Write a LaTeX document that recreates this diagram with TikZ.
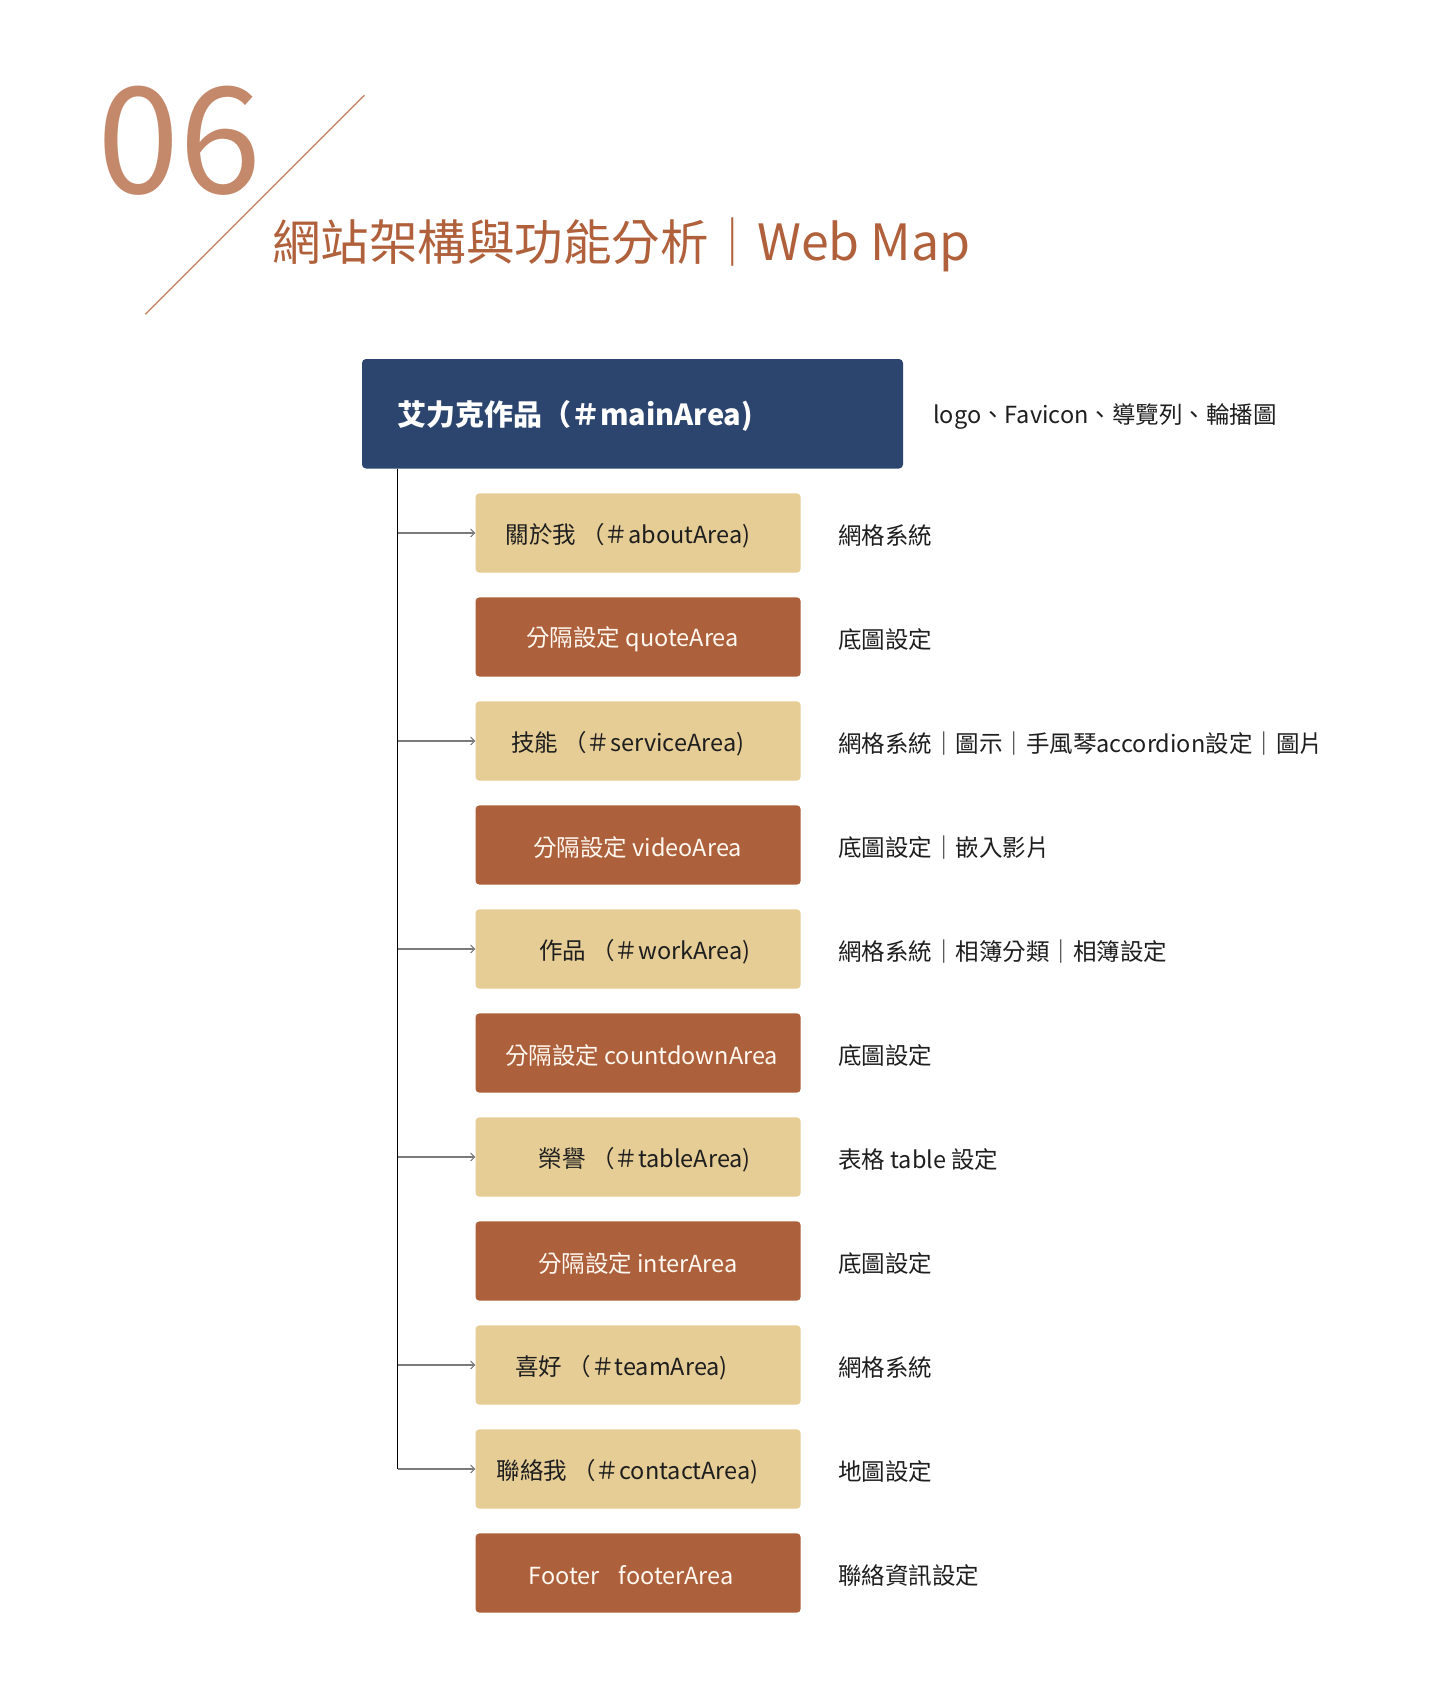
\documentclass[tikz,border=0pt]{standalone}
\usepackage{fontspec}
\setmainfont{Noto Sans CJK TC}
\usetikzlibrary{arrows.meta}
\definecolor{navy}{HTML}{2B456F}
\definecolor{beige}{HTML}{E6CD96}
\definecolor{rust}{HTML}{AD603C}
\definecolor{titlec}{HTML}{B0603A}
\definecolor{numc}{HTML}{C4896B}
\definecolor{linec}{HTML}{C68B6D}
\definecolor{txt}{HTML}{1E1E1E}
\definecolor{arrc}{HTML}{7A7A7A}
\definecolor{lighttxt}{HTML}{FFF8F0}
\tikzset{
  lbox/.style={fill=beige, rounded corners=4pt, minimum width=325.2pt, minimum height=79.4pt, inner sep=0pt},
  dbox/.style={fill=rust, rounded corners=4pt, minimum width=325.2pt, minimum height=79.4pt, inner sep=0pt},
  mbox/.style={fill=navy, rounded corners=4pt, minimum width=541pt, minimum height=109.5pt, inner sep=0pt},
  ltext/.style={font=\fontsize{23.5}{28}\selectfont, text=txt, inner sep=0pt, yshift=-2.5pt},
  dtext/.style={font=\fontsize{23.5}{28}\selectfont, text=lighttxt, inner sep=0pt, yshift=-2.5pt},
  mtext/.style={font=\fontsize{29}{35}\selectfont\bfseries, text=white, inner sep=0pt, anchor=west, yshift=-2pt},
  note/.style={font=\fontsize{23.5}{28}\selectfont, text=txt, inner sep=0pt, anchor=west, yshift=-2.5pt},
  trunk/.style={draw=black, line width=1.1pt},
  conn/.style={draw=arrc, line width=1.5pt, -{Straight Barb[length=4pt,width=8pt,line width=1pt]}},
  diag/.style={draw=linec, line width=1.4pt},
}
\begin{document}
\begin{tikzpicture}[x=1pt,y=-1pt]
\useasboundingbox (0,0) rectangle (1440,1685);
\fill[white] (0,0) rectangle (1440,1685);
% header
\coordinate (d1) at (364.3,95.3);
\coordinate (d2) at (145.3,314.3);
\draw[diag] (d1) -- (d2);
\node[anchor=base west, inner sep=0pt, text=numc, font=\fontsize{148}{160}\selectfont] (num) at (97,194) {06};
\node[anchor=base west, inner sep=0pt, text=titlec, font=\fontsize{48.5}{56}\selectfont] (title) at (272,261) {網站架構與功能分析｜{\fontsize{50}{56}\selectfont Web Map}};
% main box
\node[mbox] (main) at (632.5,413.75) {};
\node[mtext] (mt) at (397,413.75) {艾力克作品（＃mainArea)};
\node[note] (n0) at (933,414) {logo、Favicon、導覽列、輪播圖};
% boxes
\node[lbox] (b1) at (638.1,533) {};
\node[dbox] (b2) at (638.1,637) {};
\node[lbox] (b3) at (638.1,741) {};
\node[dbox] (b4) at (638.1,845) {};
\node[lbox] (b5) at (638.1,949) {};
\node[dbox] (b6) at (638.1,1053) {};
\node[lbox] (b7) at (638.1,1157) {};
\node[dbox] (b8) at (638.1,1261) {};
\node[lbox] (b9) at (638.1,1365) {};
\node[lbox] (b10) at (638.1,1469) {};
\node[dbox] (b11) at (638.1,1573) {};
% box texts
\node[ltext] (t1) at ([xshift=-10pt]b1.center) {關於我 （＃aboutArea)};
\node[dtext] (t2) at ([xshift=-5.5pt]b2.center) {分隔設定 quoteArea};
\node[ltext] (t3) at ([xshift=-10.5pt]b3.center) {技能 （＃serviceArea)};
\node[dtext] (t4) at ([xshift=-0.5pt]b4.center) {分隔設定 videoArea};
\node[ltext] (t5) at ([xshift=6.7pt]b5.center) {作品 （＃workArea)};
\node[dtext] (t6) at ([xshift=3.5pt]b6.center) {分隔設定 countdownArea};
\node[ltext] (t7) at ([xshift=6.7pt]b7.center) {榮譽 （＃tableArea)};
\node[dtext] (t8) at ([xshift=-0.3pt]b8.center) {分隔設定 interArea};
\node[ltext] (t9) at ([xshift=-16.5pt]b9.center) {喜好 （＃teamArea)};
\node[ltext] (t10) at ([xshift=-10.5pt]b10.center) {聯絡我 （＃contactArea)};
\node[dtext] (t11) at ([xshift=-7pt]b11.center) {Footer\hspace{0.8em}footerArea};
% notes
\node[note] (n1) at (838,533) {網格系統};
\node[note] (n2) at (838,637) {底圖設定};
\node[note] (n3) at (838,741) {網格系統｜圖示｜手風琴accordion設定｜圖片};
\node[note] (n4) at (838,845) {底圖設定｜嵌入影片};
\node[note] (n5) at (838,949) {網格系統｜相簿分類｜相簿設定};
\node[note] (n6) at (838,1053) {底圖設定};
\node[note] (n7) at (838,1157) {表格 table 設定};
\node[note] (n8) at (838,1261) {底圖設定};
\node[note] (n9) at (838,1365) {網格系統};
\node[note] (n10) at (838,1469) {地圖設定};
\node[note] (n11) at (838,1573) {聯絡資訊設定};
% connectors
\coordinate (ttop) at (397.5,468.5);
\coordinate (tbot) at (397.5,1469);
\draw[trunk] (ttop) -- (tbot);
\foreach \b in {b1,b3,b5,b7,b9,b10} {
  \draw[conn] (ttop |- \b.west) -- (\b.west);
}
\end{tikzpicture}
\end{document}
